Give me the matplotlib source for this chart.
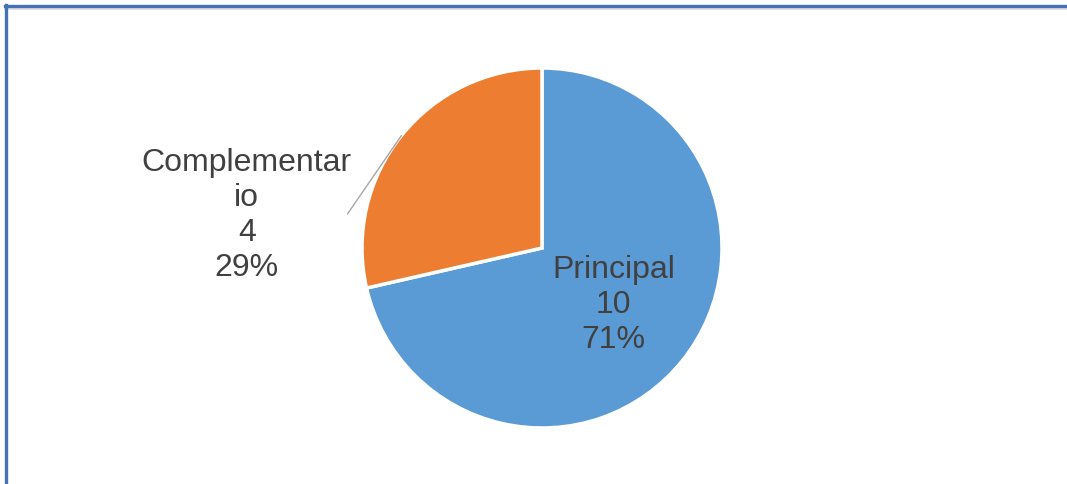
import numpy as np
import matplotlib.pyplot as plt
from matplotlib.lines import Line2D

categories = ["Principal", "Complementario"]
label_text = ["Principal", "Complementar\nio"]
values = [10, 4]
colors = ["#5B9BD5", "#ED7D31"]

plt.rcParams['font.family'] = ['Liberation Sans', 'DejaVu Sans']

W, H = 1067, 484
fig = plt.figure(figsize=(W / 100, H / 100), dpi=100)
ax = fig.add_axes([0, 0, 1, 1])

# pie of radius 1, 180 px per data unit
s = 180.0
cx, cy = 542, 248

wedges, _ = ax.pie(values, colors=colors, startangle=90, counterclock=False,
                   radius=1, center=(0, 0), frame=True,
                   wedgeprops=dict(edgecolor='white', linewidth=2.5))
ax.set_xlim(-cx / s, (W - cx) / s)
ax.set_ylim(-(H - cy) / s, cy / s)
ax.set_aspect('equal')
ax.axis('off')

total = sum(values)
txt_color = '#404040'
fs = 23

# inside label for the big slice
w0 = wedges[0]
mid = np.deg2rad((w0.theta1 + w0.theta2) / 2)
ax.text(0.51 * np.cos(mid), 0.51 * np.sin(mid),
        f"{label_text[0]}\n{values[0]}\n{round(values[0] / total * 100)}%",
        ha='center', va='center', fontsize=fs, color=txt_color, linespacing=1.22)

# outside label with leader line for the small slice
w1 = wedges[1]
mid = np.deg2rad((w1.theta1 + w1.theta2) / 2)
x0, y0 = np.cos(mid), np.sin(mid)
ax.plot([x0, -1.08], [y0, 0.19], color='#a6a6a6', lw=1.0)
ax.text(-1.64, 0.18,
        f"{label_text[1]}\n{values[1]}\n{round(values[1] / total * 100)}%",
        ha='center', va='center', fontsize=fs, color=txt_color, linespacing=1.22)

# chart frame (top and left edges)
fig.add_artist(Line2D([5 / W, 1], [1 - 8.5 / H, 1 - 8.5 / H], color='#d9d9d9', lw=1.2,
                      transform=fig.transFigure))
fig.add_artist(Line2D([5 / W, 1], [1 - 6 / H, 1 - 6 / H], color='#4472b4', lw=2.4,
                      transform=fig.transFigure))
fig.add_artist(Line2D([6 / W, 6 / W], [0, 1 - 5 / H], color='#4472b4', lw=2.4,
                      transform=fig.transFigure))

fig.savefig('out.png', dpi=100, facecolor='white')
